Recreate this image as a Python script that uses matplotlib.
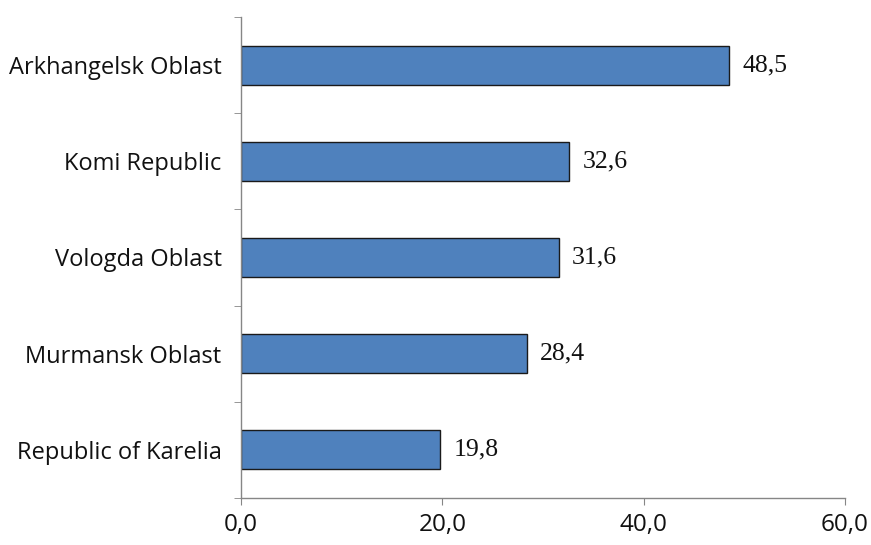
import matplotlib
matplotlib.use("Agg")
import matplotlib.pyplot as plt
from matplotlib.ticker import FixedLocator

categories = ["Republic of Karelia", "Murmansk Oblast", "Vologda Oblast", "Komi Republic", "Arkhangelsk Oblast"]
values = [19.8, 28.4, 31.6, 32.6, 48.5]
xticks = [0, 20, 40, 60]
xtick_labels = ["0,0", "20,0", "40,0", "60,0"]

fig = plt.figure(figsize=(8.71, 5.45), dpi=100)
ax = fig.add_axes([241/871, 1-498/545, (845-241)/871, (498-17)/545])

y = list(range(len(categories)))
ax.barh(y, values, height=0.405, color="#4F81BD", edgecolor="#1a1a1a", linewidth=1.0)

for yi, v in zip(y, values):
    ax.text(v + 1.3, yi, f"{v:.1f}".replace(".", ","), va="center", ha="left",
            fontsize=18.5, family="Liberation Serif", color="#111111")

ax.set_xlim(0, 60)
ax.set_ylim(-0.5, len(categories) - 0.5)
ax.set_xticks(xticks)
ax.set_xticklabels(xtick_labels, fontsize=17.5, family="Open Sans", color="#111111")
ax.set_yticks(y)
ax.set_yticklabels(categories, fontsize=17, family="Open Sans", color="#111111")
ax.yaxis.set_minor_locator(FixedLocator([i - 0.5 for i in range(len(categories) + 1)]))
ax.tick_params(axis="y", which="major", length=0, pad=14)
ax.tick_params(axis="y", which="minor", length=5, color="#868686", direction="out")
ax.tick_params(axis="x", which="major", length=5, color="#868686", direction="out", pad=6)

for s in ["top", "right"]:
    ax.spines[s].set_visible(False)
for s in ["left", "bottom"]:
    ax.spines[s].set_color("#868686")
    ax.spines[s].set_linewidth(1.0)

fig.savefig("out.png", dpi=100, facecolor="white")
